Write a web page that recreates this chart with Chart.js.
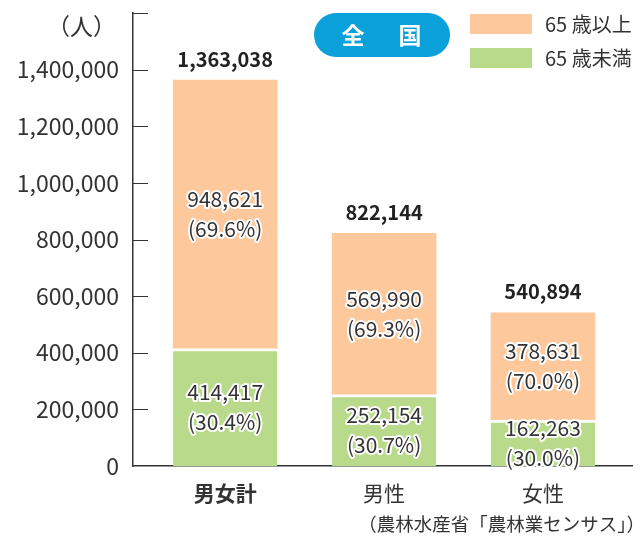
<!DOCTYPE html>
<html>
<head>
<meta charset="utf-8">
<script src="https://cdn.jsdelivr.net/npm/chart.js@4/dist/chart.umd.min.js"></script>
<style>
  html, body { margin: 0; padding: 0; background: #fff; }
  #wrap { width: 640px; height: 537px; }
</style>
</head>
<body>
<div id="wrap"><canvas id="chart"></canvas></div>
<script>
// values as printed on the chart
const categories = ['男女計', '男性', '女性'];
const under65 = [414417, 252154, 162263];
const over65 = [948621, 569990, 378631];
const totals = [1363038, 822144, 540894];
const under65Pct = ['30.4', '30.7', '30.0'];
const over65Pct = ['69.6', '69.3', '70.0'];
const seriesNames = ['65 歳未満', '65 歳以上'];
const yTickValues = [0, 200000, 400000, 600000, 800000, 1000000, 1200000, 1400000, 1600000];

const FONT = '"Noto Sans CJK JP", "Noto Sans", sans-serif';
const TEXT = '#333333';
const GREEN = '#b9d98b';
const ORANGE = '#fcc89c';
const BLUE = '#0aa0d9';

function fmt(n) {
  return n.toLocaleString('en-US');
}

// short tick marks on the inner side of the y axis, plus data labels and decorations
const extras = {
  id: 'extras',
  afterDraw(chart) {
    const ctx = chart.ctx;
    const x = chart.scales.x;
    const y = chart.scales.y;
    const left = chart.chartArea.left;

    ctx.save();
    ctx.strokeStyle = TEXT;
    ctx.lineWidth = 1;
    yTickValues.forEach(v => {
      if (v === 0) return;
      const py = Math.round(y.getPixelForValue(v)) + 0.5;
      ctx.beginPath();
      ctx.moveTo(left, py);
      ctx.lineTo(left + 15, py);
      ctx.stroke();
    });

    // category labels
    ctx.textAlign = 'center';
    ctx.textBaseline = 'middle';
    ctx.fillStyle = TEXT;
    categories.forEach((c, i) => {
      ctx.font = (i === 0 ? 'bold ' : '') + '21px ' + FONT;
      ctx.fillText(c, x.getPixelForValue(i), 493);
    });

    // labels inside segments
    const pcts = [under65Pct, over65Pct];
    const vals = [under65, over65];
    ctx.font = '21px ' + FONT;
    ctx.lineJoin = 'round';
    chart.data.datasets.forEach((ds, di) => {
      const meta = chart.getDatasetMeta(di);
      meta.data.forEach((bar, i) => {
        const cy = (bar.y + bar.base) / 2;
        const lines = [fmt(vals[di][i]), '(' + pcts[di][i] + '%)'];
        lines.forEach((t, k) => {
          const ty = cy - 15 + k * 30;
          ctx.strokeStyle = '#fff';
          ctx.lineWidth = 4;
          ctx.strokeText(t, bar.x, ty);
          ctx.fillStyle = TEXT;
          ctx.fillText(t, bar.x, ty);
        });
      });
    });

    // totals above each bar
    const topMeta = chart.getDatasetMeta(1);
    ctx.font = 'bold 20px ' + FONT;
    ctx.fillStyle = '#222';
    topMeta.data.forEach((bar, i) => {
      ctx.fillText(fmt(totals[i]), bar.x, bar.y - 21);
    });

    // unit
    ctx.font = '23px ' + FONT;
    ctx.textAlign = 'right';
    ctx.fillStyle = TEXT;
    ctx.fillText('（人）', 116, 26);

    // badge
    ctx.fillStyle = BLUE;
    ctx.beginPath();
    ctx.roundRect(314, 13, 136, 44, 22);
    ctx.fill();
    ctx.fillStyle = '#fff';
    ctx.font = 'bold 23px ' + FONT;
    ctx.textAlign = 'center';
    ctx.fillText('全', 353, 35);
    ctx.fillText('国', 410, 35);

    // legend
    const legendRows = [[ORANGE, seriesNames[1], 14], [GREEN, seriesNames[0], 48]];
    ctx.font = '20px ' + FONT;
    ctx.textAlign = 'left';
    legendRows.forEach(([c, label, ty]) => {
      ctx.fillStyle = c;
      ctx.fillRect(470, ty, 62, 20);
      ctx.fillStyle = TEXT;
      ctx.fillText(label, 545, ty + 10);
    });

    // source
    ctx.font = '18.5px ' + FONT;
    ctx.textAlign = 'right';
    ctx.fillText('（農林水産省「農林業センサス」）', 645, 524);
    ctx.restore();
  }
};

new Chart(document.getElementById('chart'), {
  type: 'bar',
  data: {
    datasets: [
      {
        label: seriesNames[0],
        data: under65.map((v, i) => ({ x: i, y: v })),
        backgroundColor: GREEN,
        borderColor: '#fff',
        borderWidth: { top: 3, left: 0, right: 0, bottom: 0 },
        borderSkipped: false,
        barThickness: 104
      },
      {
        label: seriesNames[1],
        data: over65.map((v, i) => ({ x: i, y: v })),
        backgroundColor: ORANGE,
        borderWidth: 0,
        barThickness: 104
      }
    ]
  },
  options: {
    responsive: true,
    maintainAspectRatio: false,
    animation: false,
    layout: { padding: { top: 13, right: 8, left: 0, bottom: 0 } },
    plugins: {
      legend: { display: false },
      tooltip: { enabled: false }
    },
    scales: {
      x: {
        type: 'linear',
        stacked: true,
        offset: false,
        bounds: 'data',
        min: -0.58,
        max: 2.56,
        afterFit(scale) { scale.height = 71; scale.paddingLeft = 0; scale.paddingRight = 0; },
        grid: { display: false, drawTicks: false },
        border: { display: true, color: TEXT, width: 1.5 },
        ticks: { display: false }
      },
      y: {
        stacked: true,
        min: 0,
        max: 1600000,
        afterFit(scale) { scale.width = 133; scale.paddingTop = 0; scale.paddingBottom = 0; },
        afterBuildTicks(scale) { scale.ticks = yTickValues.map(v => ({ value: v })); },
        grid: { display: false, drawTicks: false },
        border: { display: true, color: TEXT, width: 1.5 },
        ticks: {
          padding: 14,
          color: TEXT,
          font: { family: FONT, size: 23 },
          callback: v => v === 1600000 ? '' : fmt(v)
        }
      }
    }
  },
  plugins: [extras]
});
</script>
</body>
</html>
